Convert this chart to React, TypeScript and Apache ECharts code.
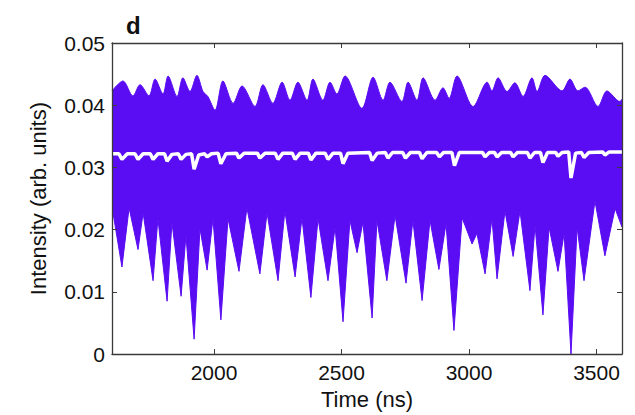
import React, { useEffect, useRef } from "react";
import * as echarts from "echarts";

// Upper envelope of the intensity trace (time in ns, intensity)
const upperTime = [1600, 1643, 1682, 1710, 1745, 1769, 1800, 1820, 1855, 1878, 1906, 1933, 1957, 1976, 2004, 2035, 2075, 2110, 2161, 2192, 2231, 2267, 2298, 2329, 2365, 2388, 2427, 2455, 2482, 2514, 2580, 2624, 2663, 2690, 2737, 2761, 2796, 2820, 2867, 2898, 2922, 2953, 3016, 3071, 3090, 3114, 3149, 3180, 3212, 3247, 3267, 3298, 3365, 3396, 3427, 3455, 3506, 3541, 3592, 3600];
const upperValue = [0.0423, 0.0439, 0.0415, 0.0433, 0.0415, 0.0442, 0.0418, 0.0447, 0.0414, 0.0444, 0.0422, 0.0448, 0.0422, 0.0414, 0.0392, 0.0439, 0.0403, 0.0431, 0.0398, 0.0433, 0.0403, 0.0437, 0.0408, 0.0437, 0.0408, 0.0442, 0.0408, 0.0437, 0.0418, 0.0447, 0.0395, 0.0445, 0.0408, 0.0437, 0.0406, 0.0437, 0.0408, 0.0444, 0.0408, 0.0428, 0.0411, 0.0447, 0.0398, 0.0437, 0.0423, 0.0444, 0.0422, 0.0436, 0.0414, 0.0444, 0.0422, 0.0448, 0.0423, 0.0442, 0.0423, 0.0429, 0.0398, 0.0423, 0.0406, 0.041];

// Lower envelope of the intensity trace
const lowerTime = [1600, 1604, 1639, 1667, 1702, 1722, 1761, 1780, 1816, 1835, 1871, 1890, 1922, 1945, 1973, 1996, 2027, 2055, 2098, 2129, 2180, 2208, 2251, 2278, 2318, 2345, 2380, 2408, 2447, 2475, 2506, 2533, 2561, 2584, 2620, 2639, 2678, 2710, 2753, 2780, 2816, 2847, 2882, 2910, 2941, 2973, 3012, 3031, 3063, 3090, 3110, 3141, 3173, 3200, 3239, 3259, 3290, 3314, 3349, 3373, 3400, 3424, 3451, 3494, 3533, 3573, 3600];
const lowerValue = [0.0225, 0.0227, 0.0140, 0.0235, 0.0168, 0.0227, 0.0118, 0.0218, 0.0085, 0.0212, 0.0093, 0.0191, 0.0024, 0.0202, 0.0135, 0.0218, 0.0055, 0.0218, 0.0133, 0.0235, 0.0129, 0.0227, 0.0118, 0.0230, 0.0124, 0.0219, 0.0091, 0.0218, 0.0118, 0.0204, 0.0052, 0.0215, 0.0163, 0.0212, 0.0058, 0.0215, 0.0118, 0.0223, 0.0114, 0.0215, 0.0086, 0.0215, 0.0136, 0.0210, 0.0038, 0.0219, 0.0177, 0.0194, 0.0129, 0.0218, 0.0121, 0.0230, 0.0157, 0.0230, 0.0102, 0.0207, 0.0063, 0.0204, 0.0133, 0.0194, 0.0, 0.0204, 0.0118, 0.0246, 0.0158, 0.0234, 0.0204];

// Mean intensity (white trace)
const meanTime = [1600, 1627, 1639, 1660, 1690, 1702, 1722, 1750, 1761, 1780, 1806, 1816, 1835, 1860, 1871, 1890, 1912, 1922, 1940, 1963, 1973, 1990, 2016, 2027, 2047, 2088, 2098, 2118, 2170, 2180, 2200, 2240, 2251, 2270, 2307, 2318, 2338, 2370, 2380, 2400, 2436, 2447, 2467, 2496, 2506, 2525, 2610, 2620, 2640, 2672, 2682, 2700, 2740, 2751, 2770, 2806, 2816, 2835, 2873, 2884, 2900, 2933, 2943, 2962, 3053, 3063, 3080, 3100, 3110, 3128, 3163, 3173, 3190, 3229, 3239, 3257, 3280, 3290, 3308, 3340, 3349, 3365, 3391, 3400, 3418, 3441, 3451, 3470, 3524, 3533, 3550, 3600];
const meanValue = [0.0322, 0.0322, 0.0313, 0.0322, 0.0322, 0.0313, 0.0322, 0.0322, 0.0313, 0.0322, 0.0322, 0.0310, 0.0321, 0.0322, 0.0313, 0.0321, 0.0322, 0.0297, 0.0320, 0.0322, 0.0317, 0.0322, 0.0323, 0.0306, 0.0322, 0.0323, 0.0315, 0.0323, 0.0323, 0.0315, 0.0323, 0.0323, 0.0313, 0.0323, 0.0323, 0.0313, 0.0323, 0.0323, 0.0312, 0.0323, 0.0323, 0.0313, 0.0323, 0.0323, 0.0306, 0.0323, 0.0324, 0.0311, 0.0323, 0.0324, 0.0315, 0.0324, 0.0324, 0.0315, 0.0324, 0.0324, 0.0314, 0.0324, 0.0324, 0.0317, 0.0324, 0.0324, 0.0303, 0.0324, 0.0324, 0.0317, 0.0324, 0.0324, 0.0317, 0.0324, 0.0324, 0.0317, 0.0324, 0.0324, 0.0315, 0.0324, 0.0324, 0.0308, 0.0324, 0.0324, 0.0318, 0.0324, 0.0325, 0.0283, 0.0323, 0.0324, 0.0316, 0.0324, 0.0325, 0.0320, 0.0325, 0.0325];

const xTicks = [2000, 2500, 3000, 3500];
const xRange = [1600, 3600];
const yRange = [0, 0.05];
const yStep = 0.01;

const PURPLE = "#5a0cf2";
const AXIS = "#3a3a3a";
const FONT = "'Liberation Sans', Arial, Helvetica, sans-serif";

const zip = (xs: number[], ys: number[]) => xs.map((x, i) => [x, ys[i]]);

export default function App() {
  const ref = useRef<HTMLDivElement>(null);
  useEffect(() => {
    if (!ref.current) return;
    const chart = echarts.init(ref.current, null, { renderer: "svg" });
    const baseX = {
      type: "value" as const,
      min: xRange[0],
      max: xRange[1],
      z: 10,
      splitLine: { show: false },
      axisLine: { show: true, onZero: false, lineStyle: { color: AXIS, width: 1.3 } },
      axisTick: { show: true, inside: true, length: 5, customValues: xTicks, lineStyle: { color: AXIS, width: 1 } },
    };
    const baseY = {
      type: "value" as const,
      min: yRange[0],
      max: yRange[1],
      interval: yStep,
      z: 10,
      splitLine: { show: false },
      axisLine: { show: true, onZero: false, lineStyle: { color: AXIS, width: 1.3 } },
      axisTick: { show: true, inside: true, length: 5, lineStyle: { color: AXIS, width: 1 } },
    };
    chart.setOption({
      animation: false,
      backgroundColor: "#ffffff",
      textStyle: { fontFamily: FONT },
      title: {
        text: "d",
        left: 121,
        top: 8,
        textStyle: { fontFamily: FONT, fontWeight: "bold", fontSize: 24, color: "#111" },
      },
      grid: { left: 112, right: 13, top: 43, bottom: 53 },
      xAxis: [
        {
          ...baseX,
          position: "bottom",
          name: "Time (ns)",
          nameLocation: "middle",
          nameGap: 28,
          nameTextStyle: { fontFamily: FONT, fontSize: 22, color: "#111" },
          axisLabel: {
            show: true,
            customValues: xTicks,
            margin: 8,
            fontFamily: FONT,
            fontSize: 21,
            color: "#111",
            formatter: (v: number) => String(v),
          },
        },
        { ...baseX, position: "top", axisLabel: { show: false } },
      ],
      yAxis: [
        {
          ...baseY,
          position: "left",
          name: "Intensity (arb. units)",
          nameLocation: "middle",
          nameGap: 63,
          nameTextStyle: { fontFamily: FONT, fontSize: 22, color: "#111" },
          axisLabel: {
            show: true,
            margin: 7,
            fontFamily: FONT,
            fontSize: 21,
            color: "#111",
            formatter: (v: number) => (v === 0 ? "0" : v.toFixed(2)),
          },
        },
        { ...baseY, position: "right", axisLabel: { show: false } },
      ],
      series: [
        {
          name: "upper",
          type: "line",
          xAxisIndex: 0,
          yAxisIndex: 0,
          data: zip(upperTime, upperValue),
          showSymbol: false,
          smooth: 0.3,
          lineStyle: { color: PURPLE, width: 1 },
          areaStyle: { color: PURPLE, opacity: 1, origin: "start" },
          z: 2,
        },
        {
          name: "lower",
          type: "line",
          xAxisIndex: 0,
          yAxisIndex: 0,
          data: zip(lowerTime, lowerValue),
          showSymbol: false,
          lineStyle: { color: PURPLE, width: 1 },
          areaStyle: { color: "#ffffff", opacity: 1, origin: "start" },
          z: 3,
        },
        {
          name: "mean",
          type: "line",
          xAxisIndex: 0,
          yAxisIndex: 0,
          data: zip(meanTime, meanValue),
          showSymbol: false,
          lineStyle: { color: "#ffffff", width: 3.5 },
          z: 4,
        },
      ],
    });
    return () => chart.dispose();
  }, []);
  return (
    <div
      ref={ref}
      style={{ position: "fixed", left: 0, top: 0, width: 635, height: 415, background: "#fff" }}
    />
  );
}
